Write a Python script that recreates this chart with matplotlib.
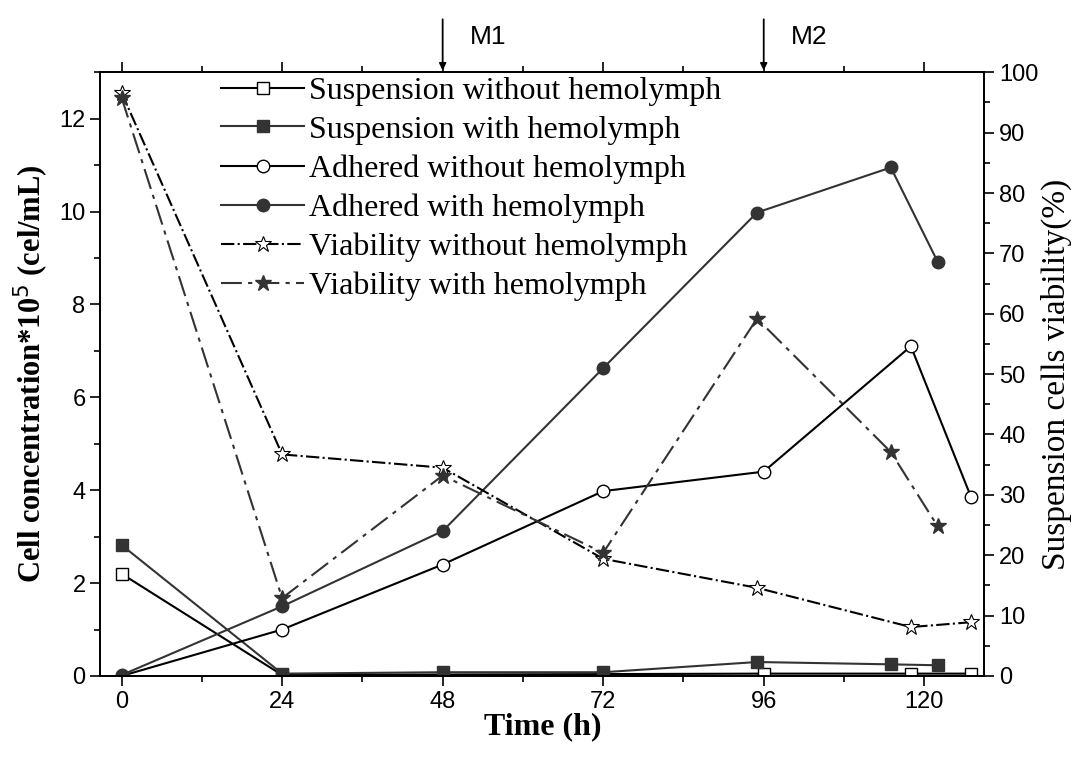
import matplotlib.pyplot as plt
from matplotlib.ticker import MultipleLocator

plt.rcParams['font.family'] = ['Liberation Sans', 'DejaVu Sans']

x_sus_wo = [0, 24, 96, 118, 127]
y_sus_wo = [2.2, 0.02, 0.05, 0.05, 0.05]
x_sus_w = [0, 24, 48, 72, 95, 115, 122]
y_sus_w = [2.82, 0.05, 0.08, 0.08, 0.3, 0.25, 0.23]
x_adh_wo = [0, 24, 48, 72, 96, 118, 127]
y_adh_wo = [0.0, 1.0, 2.4, 3.98, 4.4, 7.1, 3.85]
x_adh_w = [0, 24, 48, 72, 95, 115, 122]
y_adh_w = [0.02, 1.5, 3.12, 6.63, 9.98, 10.95, 8.92]
x_via_wo = [0, 24, 48, 72, 95, 118, 127]
y_via_wo = [96.6, 36.7, 34.5, 19.4, 14.6, 8.1, 8.9]
x_via_w = [0, 24, 48, 72, 95, 115, 122]
y_via_w = [95.8, 12.9, 33.2, 20.4, 59.2, 37.1, 24.8]

c = '#333333'
fig = plt.figure(figsize=(10.89, 7.69), dpi=100)
ax = fig.add_axes([0.092, 0.121, 0.812, 0.785])
ax2 = ax.twinx()

ms = 9
h1, = ax.plot(x_sus_wo, y_sus_wo, '-', color='black', marker='s', mfc='white', mec='black', ms=ms, lw=1.5, label='Suspension without hemolymph')
h2, = ax.plot(x_sus_w, y_sus_w, '-', color=c, marker='s', mfc=c, mec=c, ms=ms, lw=1.5, label='Suspension with hemolymph')
h3, = ax.plot(x_adh_wo, y_adh_wo, '-', color='black', marker='o', mfc='white', mec='black', ms=ms, lw=1.5, label='Adhered without hemolymph')
h4, = ax.plot(x_adh_w, y_adh_w, '-', color=c, marker='o', mfc=c, mec=c, ms=ms, lw=1.5, label='Adhered with hemolymph')
h5, = ax2.plot(x_via_wo, y_via_wo, '-.', color='black', marker='*', mfc='white', mec='black', ms=12, mew=0.8, lw=1.5, label='Viability without hemolymph')
h6, = ax2.plot(x_via_w, y_via_w, '-.', dashes=[10, 3, 2, 3], color=c, marker='*', mfc=c, mec=c, ms=12, lw=1.5, label='Viability with hemolymph')

ax.set_xlim(-3.2, 129)
ax.set_ylim(0, 13)
ax2.set_ylim(0, 100)
ax.xaxis.set_major_locator(MultipleLocator(24))
ax.xaxis.set_minor_locator(MultipleLocator(12))
ax.yaxis.set_major_locator(MultipleLocator(2))
ax.yaxis.set_minor_locator(MultipleLocator(1))
ax2.yaxis.set_major_locator(MultipleLocator(10))
ax2.yaxis.set_minor_locator(MultipleLocator(5))
for a in (ax, ax2):
    a.tick_params(which='major', length=7, width=1.2, labelsize=17)
    a.tick_params(which='minor', length=4, width=1.2)
    for s in a.spines.values():
        s.set_linewidth(1.3)
ax.tick_params(which='both', top=True, direction='out')

serif = ['Liberation Serif', 'DejaVu Serif']
ax.set_xlabel('Time (h)', fontsize=23, fontweight='bold', family=serif, labelpad=0)
ax.set_ylabel(r'Cell concentration*10$^5$ (cel/mL)', fontsize=22, fontweight='bold', family=serif, labelpad=6)
ax2.set_ylabel('Suspension cells viability(%)', fontsize=24, family=serif, labelpad=2)

leg = ax.legend(handles=[h1, h2, h3, h4, h5, h6], loc='upper left', bbox_to_anchor=(0.115, 1.025),
                frameon=False, prop={'family': serif, 'size': 23}, handlelength=2.6,
                handletextpad=0.15, labelspacing=0.3, borderaxespad=0.2)

for xm, lab in [(48, 'M1'), (96, 'M2')]:
    ax.annotate('', xy=(xm, 12.98), xytext=(xm, 14.2), annotation_clip=False,
                arrowprops=dict(arrowstyle='-|>', color='black', lw=1.3))
    ax.text(xm + 4, 13.75, lab, fontsize=19, ha='left', va='center', clip_on=False)

fig.savefig('out.png', dpi=100)
